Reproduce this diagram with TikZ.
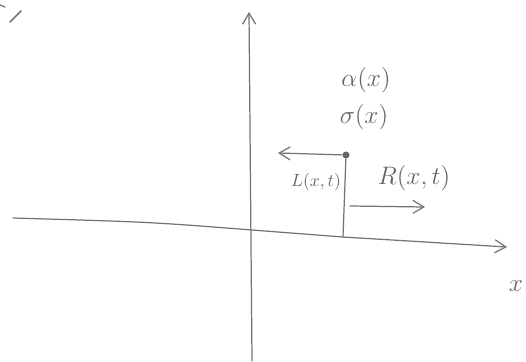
\documentclass[tikz,border=0pt]{standalone}
\usepackage{tikz}
\usetikzlibrary{arrows.meta,positioning,calc}
\tikzset{
  pen/.style={draw=black!55, line width=0.7pt, line cap=round},
  edge/.style={pen, -{Straight Barb[length=2.2mm, width=2.6mm]}},
  lbl/.style={text=black!60, inner sep=1pt, font=\Large},
  smalllbl/.style={text=black!60, inner sep=1pt, font=\normalsize},
  pt/.style={circle, fill=black!60, minimum size=4pt, inner sep=0pt}
}
\begin{document}
\begin{tikzpicture}[x=0.02cm, y=-0.02cm]
\useasboundingbox (0,0) rectangle (526,361);
% axes
\coordinate (yb) at (252,361);
\coordinate (yt) at (249,12);
\coordinate (xl) at (13,218);
\coordinate (xm) at (252,230);
\coordinate (xf) at (343,237);
\coordinate (xr) at (507,247);
\draw[edge] (yb) -- (yt);
\draw[edge] (xl) .. controls (150,222) .. (xm) -- (xf) -- (xr);
\node[lbl] (xlab) at (516,286) {$x$};
% point and its quantities
\node[pt] (p) at (346,155) {};
\node[lbl] (alpha) at (366,80) {$\alpha(x)$};
\node[lbl] (sigma) at (364,117) {$\sigma(x)$};
\draw[pen] (p) -- (xf);
\coordinate (lt) at (278,153);
\draw[edge] (p) -- (lt);
\node[smalllbl] (L) at (316,182) {$L(x,t)$};
\coordinate (rs) at (350,206);
\coordinate (rt) at (425,207);
\draw[edge] (rs) -- (rt);
\node[lbl] (R) at (414,178) {$R(x,t)$};
% stray stroke top left
\draw[pen] (0,5) -- (5,7);
\draw[pen, line width=1pt] (10,22) -- (21,11);
\end{tikzpicture}
\end{document}
